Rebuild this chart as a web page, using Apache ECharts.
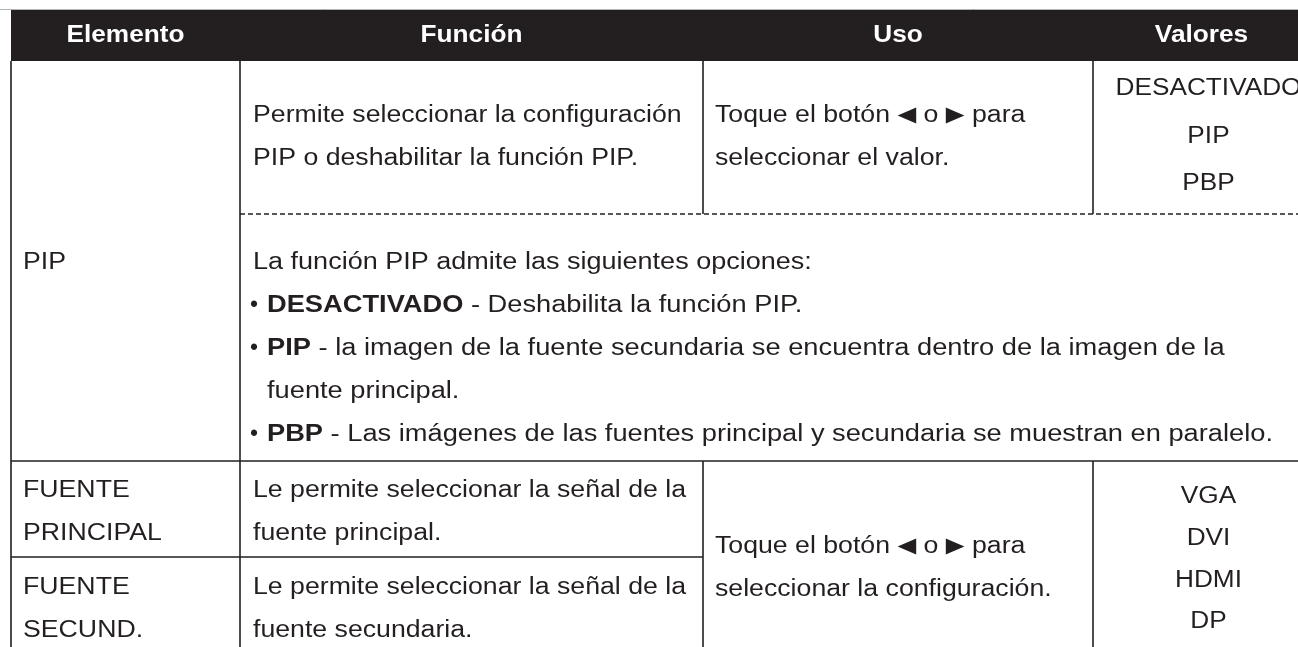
<!DOCTYPE html>
<html><head><meta charset="utf-8">
<script src="https://cdn.jsdelivr.net/npm/echarts@6/dist/echarts.min.js"></script>
<style>html,body{margin:0;padding:0;background:#fff}#c{width:1298px;height:647px}</style>
</head><body><div id="c"></div>
<script>
// ---- content ----
const headers = ['Elemento', 'Función', 'Uso', 'Valores'];
const pipElement = ['PIP'];
const pipFunction = ['Permite seleccionar la configuración', 'PIP o deshabilitar la función PIP.'];
const pipUsage = ['Toque el botón {t|◀} o {t|▶} para', 'seleccionar el valor.'];
const pipValues = ['DESACTIVADO', 'PIP', 'PBP'];
const pipIntro = 'La función PIP admite las siguientes opciones:';
const pipOptions = ['DESACTIVADO', 'PIP', 'PBP'];
const pipOptionTexts = [
  ['Deshabilita la función PIP.'],
  ['la imagen de la fuente secundaria se encuentra dentro de la imagen de la', 'fuente principal.'],
  ['Las imágenes de las fuentes principal y secundaria se muestran en paralelo.']
];
const sourceElements = [['FUENTE', 'PRINCIPAL'], ['FUENTE', 'SECUND.']];
const sourceFunctions = [
  ['Le permite seleccionar la señal de la', 'fuente principal.'],
  ['Le permite seleccionar la señal de la', 'fuente secundaria.']
];
const sourceUsage = ['Toque el botón {t|◀} o {t|▶} para', 'seleccionar la configuración.'];
const sourceValues = ['VGA', 'DVI', 'HDMI', 'DP'];

// ---- layout ----
const INK = '#231f20';
const FS = 23, SX = 1.16, FONT = '"Liberation Sans", Arial, sans-serif';
const colX = [11, 240, 703, 1093, 1310];
const headTop = 9, headBot = 61, dashY = 214, row2Bot = 461, row3Bot = 557, H = 647;
const padL = 12;
const lineGap = 43;

const rich = {
  b: {fontFamily: FONT, fontSize: FS, fontWeight: 'bold', fill: INK},
  t: {fontFamily: '"DejaVu Sans", sans-serif', fontSize: 21, fill: INK}
};

const g = [];
function text(x, y, s, o) {
  o = o || {};
  g.push({
    type: 'text', x: x, y: y, scaleX: o.sx || SX, scaleY: 1, z: 10,
    style: {
      x: 0, y: 0, text: s, fill: o.fill || INK,
      fontFamily: FONT, fontSize: o.fs || FS, fontWeight: o.bold ? 'bold' : 'normal',
      align: o.align || 'left', verticalAlign: 'middle', rich: rich
    }
  });
}
function line(x1, y1, x2, y2, o) {
  o = o || {};
  g.push({
    type: 'line', z: 5, shape: {x1: x1, y1: y1, x2: x2, y2: y2},
    style: {stroke: o.stroke || INK, lineWidth: o.w || 1.6, lineDash: o.dash || null}
  });
}
function lines(x, yc, arr, align) {
  const y0 = yc - (arr.length - 1) * lineGap / 2;
  arr.forEach((s, i) => text(x, y0 + i * lineGap, s, {align: align}));
}
function center(i) { return (colX[i] + colX[i + 1]) / 2; }

// header
g.push({type: 'rect', z: 1, shape: {x: colX[0], y: headTop, width: 1298 - colX[0], height: headBot - headTop}, style: {fill: INK}});
line(0, headTop + 0.5, 1298, headTop + 0.5, {stroke: '#b5b5b5', w: 1});
headers.forEach((h, i) => text(center(i), (headTop + headBot) / 2 + 1, h, {align: 'center', bold: true, fill: '#ffffff', sx: 1.14}));

// grid lines
line(colX[0], headBot, colX[0], H);
line(colX[1], headBot, colX[1], H);
line(colX[2], headBot, colX[2], dashY);
line(colX[3], headBot, colX[3], dashY);
line(colX[1], dashY, 1298, dashY, {dash: [5, 3], w: 1.4});
line(colX[0], row2Bot, 1298, row2Bot);
line(colX[0], row3Bot, colX[2], row3Bot);
line(colX[2], row2Bot, colX[2], H);
line(colX[3], row2Bot, colX[3], H);

// row PIP
lines(colX[0] + padL, 263, pipElement);
lines(colX[1] + 13, (headBot + dashY) / 2, pipFunction);
lines(colX[2] + 12, (headBot + dashY) / 2, pipUsage);
{
  const y0 = 89, gap = 47.5;
  pipValues.forEach((v, i) => text(center(3) + 7, y0 + i * gap, v, {align: 'center', sx: 1.14}));
}
{
  let y = 263;
  text(colX[1] + 13, y, pipIntro, {sx: 1.175});
  pipOptions.forEach((op, i) => {
    y += lineGap;
    text(colX[1] + 14, y, '•', {align: 'center', sx: 1});
    pipOptionTexts[i].forEach((t, j) => {
      if (j === 0) text(colX[1] + 27, y, '{b|' + op + '} - ' + t, {sx: 1.185});
      else { y += lineGap; text(colX[1] + 27, y, t, {sx: 1.185}); }
    });
  });
}

// source rows
const srcCenters = [512, 609];
sourceElements.forEach((e, i) => lines(colX[0] + padL, srcCenters[i], e));
sourceFunctions.forEach((f, i) => lines(colX[1] + 13, srcCenters[i], f));
lines(colX[2] + 12, 568, sourceUsage);
sourceValues.forEach((v, i) => text(center(3) + 7, 497 + i * 41.7, v, {align: 'center', sx: 1.14}));

const chart = echarts.init(document.getElementById('c'), null, {renderer: 'canvas'});
chart.setOption({animation: false, backgroundColor: '#ffffff', graphic: {elements: g}});
</script></body></html>
